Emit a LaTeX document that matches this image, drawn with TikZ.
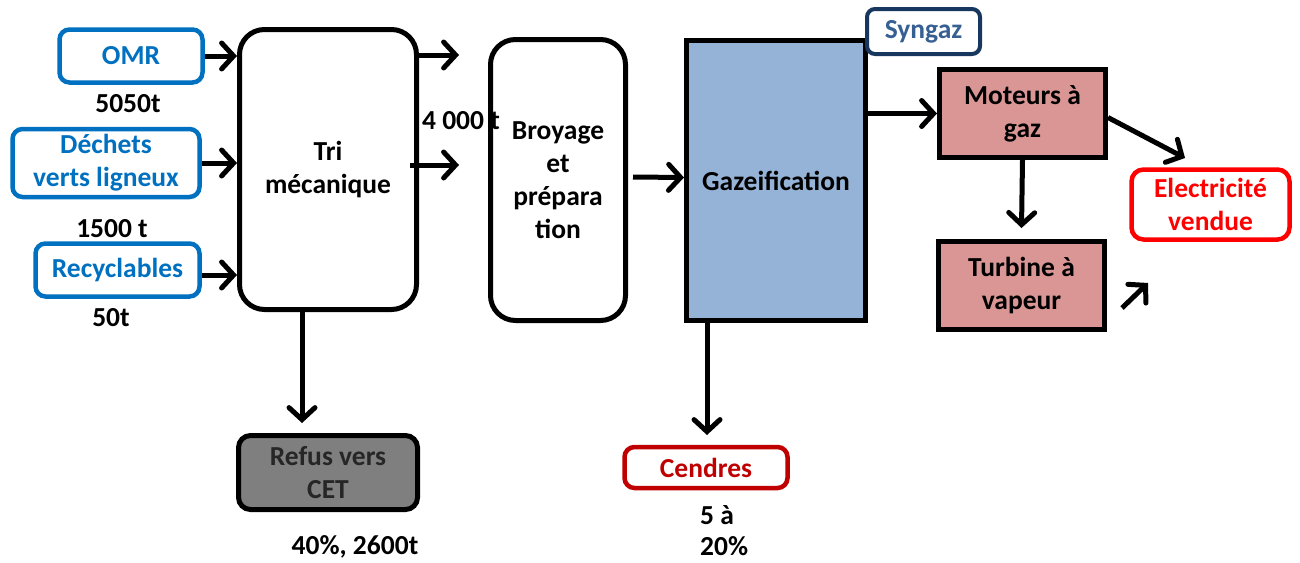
\documentclass[tikz,border=0pt]{standalone}
\usepackage{fontspec}
\setmainfont{Carlito}
\usetikzlibrary{arrows.meta}
\definecolor{cblue}{HTML}{0070C0}
\definecolor{cnavy}{HTML}{17375E}
\definecolor{csyn}{HTML}{376092}
\definecolor{cgaz}{HTML}{95B3D7}
\definecolor{cpink}{HTML}{D99694}
\definecolor{cgray}{HTML}{7F7F7F}
\definecolor{cdark}{HTML}{262626}
\definecolor{cdred}{HTML}{C00000}
\definecolor{cred}{HTML}{FF0000}
\tikzset{
  txt/.style={font=\bfseries\fontsize{27.5}{33}\selectfont, align=center, inner sep=0pt},
  inbox/.style={txt, draw=cblue, text=cblue, line width=4.5pt, rounded corners=10pt, fill=white},
  proc/.style={txt, draw=black, line width=5pt, rounded corners=25pt, fill=white},
  sqbox/.style={txt, draw=black, line width=5pt},
  arr/.style={draw=black, line width=5pt, -{Straight Barb[length=12pt,width=26pt,line cap=round]}},
  lbl/.style={txt, text=black}
}
\begin{document}
\begin{tikzpicture}[x=1pt,y=-1pt]
\useasboundingbox (0,0) rectangle (1300,562);
% input boxes
\node[inbox, minimum width=143pt, minimum height=53pt] (omr) at (131,56) {OMR};
\node[inbox, minimum width=187pt, minimum height=68pt] (dec) at (106,163) {Déchets\\verts ligneux};
\node[inbox, minimum width=164pt, minimum height=53pt] (rec) at (117.5,270) {Recyclables};
\node[lbl] (l1) at (128,104) {5050t};
\node[lbl] (l2) at (112,229) {1500 t};
\node[lbl] (l3) at (111,318) {50t};
% process boxes
\node[proc, minimum width=177pt, minimum height=280pt] (tri) at (328,169.5) {Tri\\mécanique};
\node[proc, minimum width=135pt, minimum height=281pt] (bro) at (558,180) {Broyage\\et\\prépara\\tion};
\node[sqbox, fill=cgaz, minimum width=179pt, minimum height=280pt] (gaz) at (776,180.5) {Gazeification};
\node[txt, draw=cnavy, text=csyn, fill=white, line width=4pt, rounded corners=8pt, minimum width=113pt, minimum height=45pt] (syn) at (923.5,31.5) {Syngaz};
\node[sqbox, fill=cpink, minimum width=166pt, minimum height=88pt] (mot) at (1022.5,113.5) {Moteurs à\\gaz};
\node[sqbox, fill=cpink, minimum width=166pt, minimum height=88pt] (tur) at (1021.5,285.5) {Turbine à\\vapeur};
\node[txt, draw=cred, text=cred, fill=white, line width=4.5pt, rounded corners=12pt, minimum width=158pt, minimum height=70pt] (ele) at (1210.5,204.5) {Electricité\\vendue};
\node[txt, draw=black, text=cdark, fill=cgray, line width=5pt, rounded corners=12pt, minimum width=179pt, minimum height=74pt] (ref) at (328,472.5) {Refus vers\\CET};
\node[txt, draw=cdred, text=cdred, fill=white, line width=4.5pt, rounded corners=10pt, minimum width=163pt, minimum height=41pt] (cen) at (706,467.5) {Cendres};
\node[lbl] (l4) at (461,121) {4 000 t};
\node[lbl] (l5) at (355,547) {40\%, 2600t};
\node[lbl, font=\bfseries\fontsize{27.5}{31}\selectfont, align=left, anchor=north west] (l6) at (700,505) {5 à\\20\%};
% coordinates
\coordinate (t1) at (459,55);
\coordinate (t2) at (459,165);
\coordinate (e1) at (1185,158);
\coordinate (s0) at (1122,308);
\coordinate (s1) at (1148,283);
\coordinate (rf) at (302,423);
\coordinate (cf) at (707,435);
% arrows
\draw[arr] (omr.east) -- (omr.east -| tri.west);
\draw[arr] (dec.east) -- (dec.east -| tri.west);
\draw[arr] ([yshift=-5pt]rec.east) -- ([yshift=-5pt]rec.east -| tri.west);
\draw[arr] ([xshift=-2pt]tri.east |- t1) -- (t1);
\draw[arr] ([xshift=-9pt]tri.east |- t2) -- (t2);
\draw[arr] ([xshift=5pt,yshift=3pt]bro.east) -- ([yshift=3pt]gaz.west);
\draw[arr] (gaz.east |- mot.west) -- (mot.west);
\draw[arr] ([yshift=-4pt]mot.east) -- (e1);
\draw[arr] (mot.south) -- ([yshift=11pt]tur.north);
\draw[arr] (s0) -- (s1);
\draw[arr] (tri.south -| rf) -- (rf);
\draw[arr] (gaz.south -| cf) -- (cf);
\end{tikzpicture}
\end{document}
